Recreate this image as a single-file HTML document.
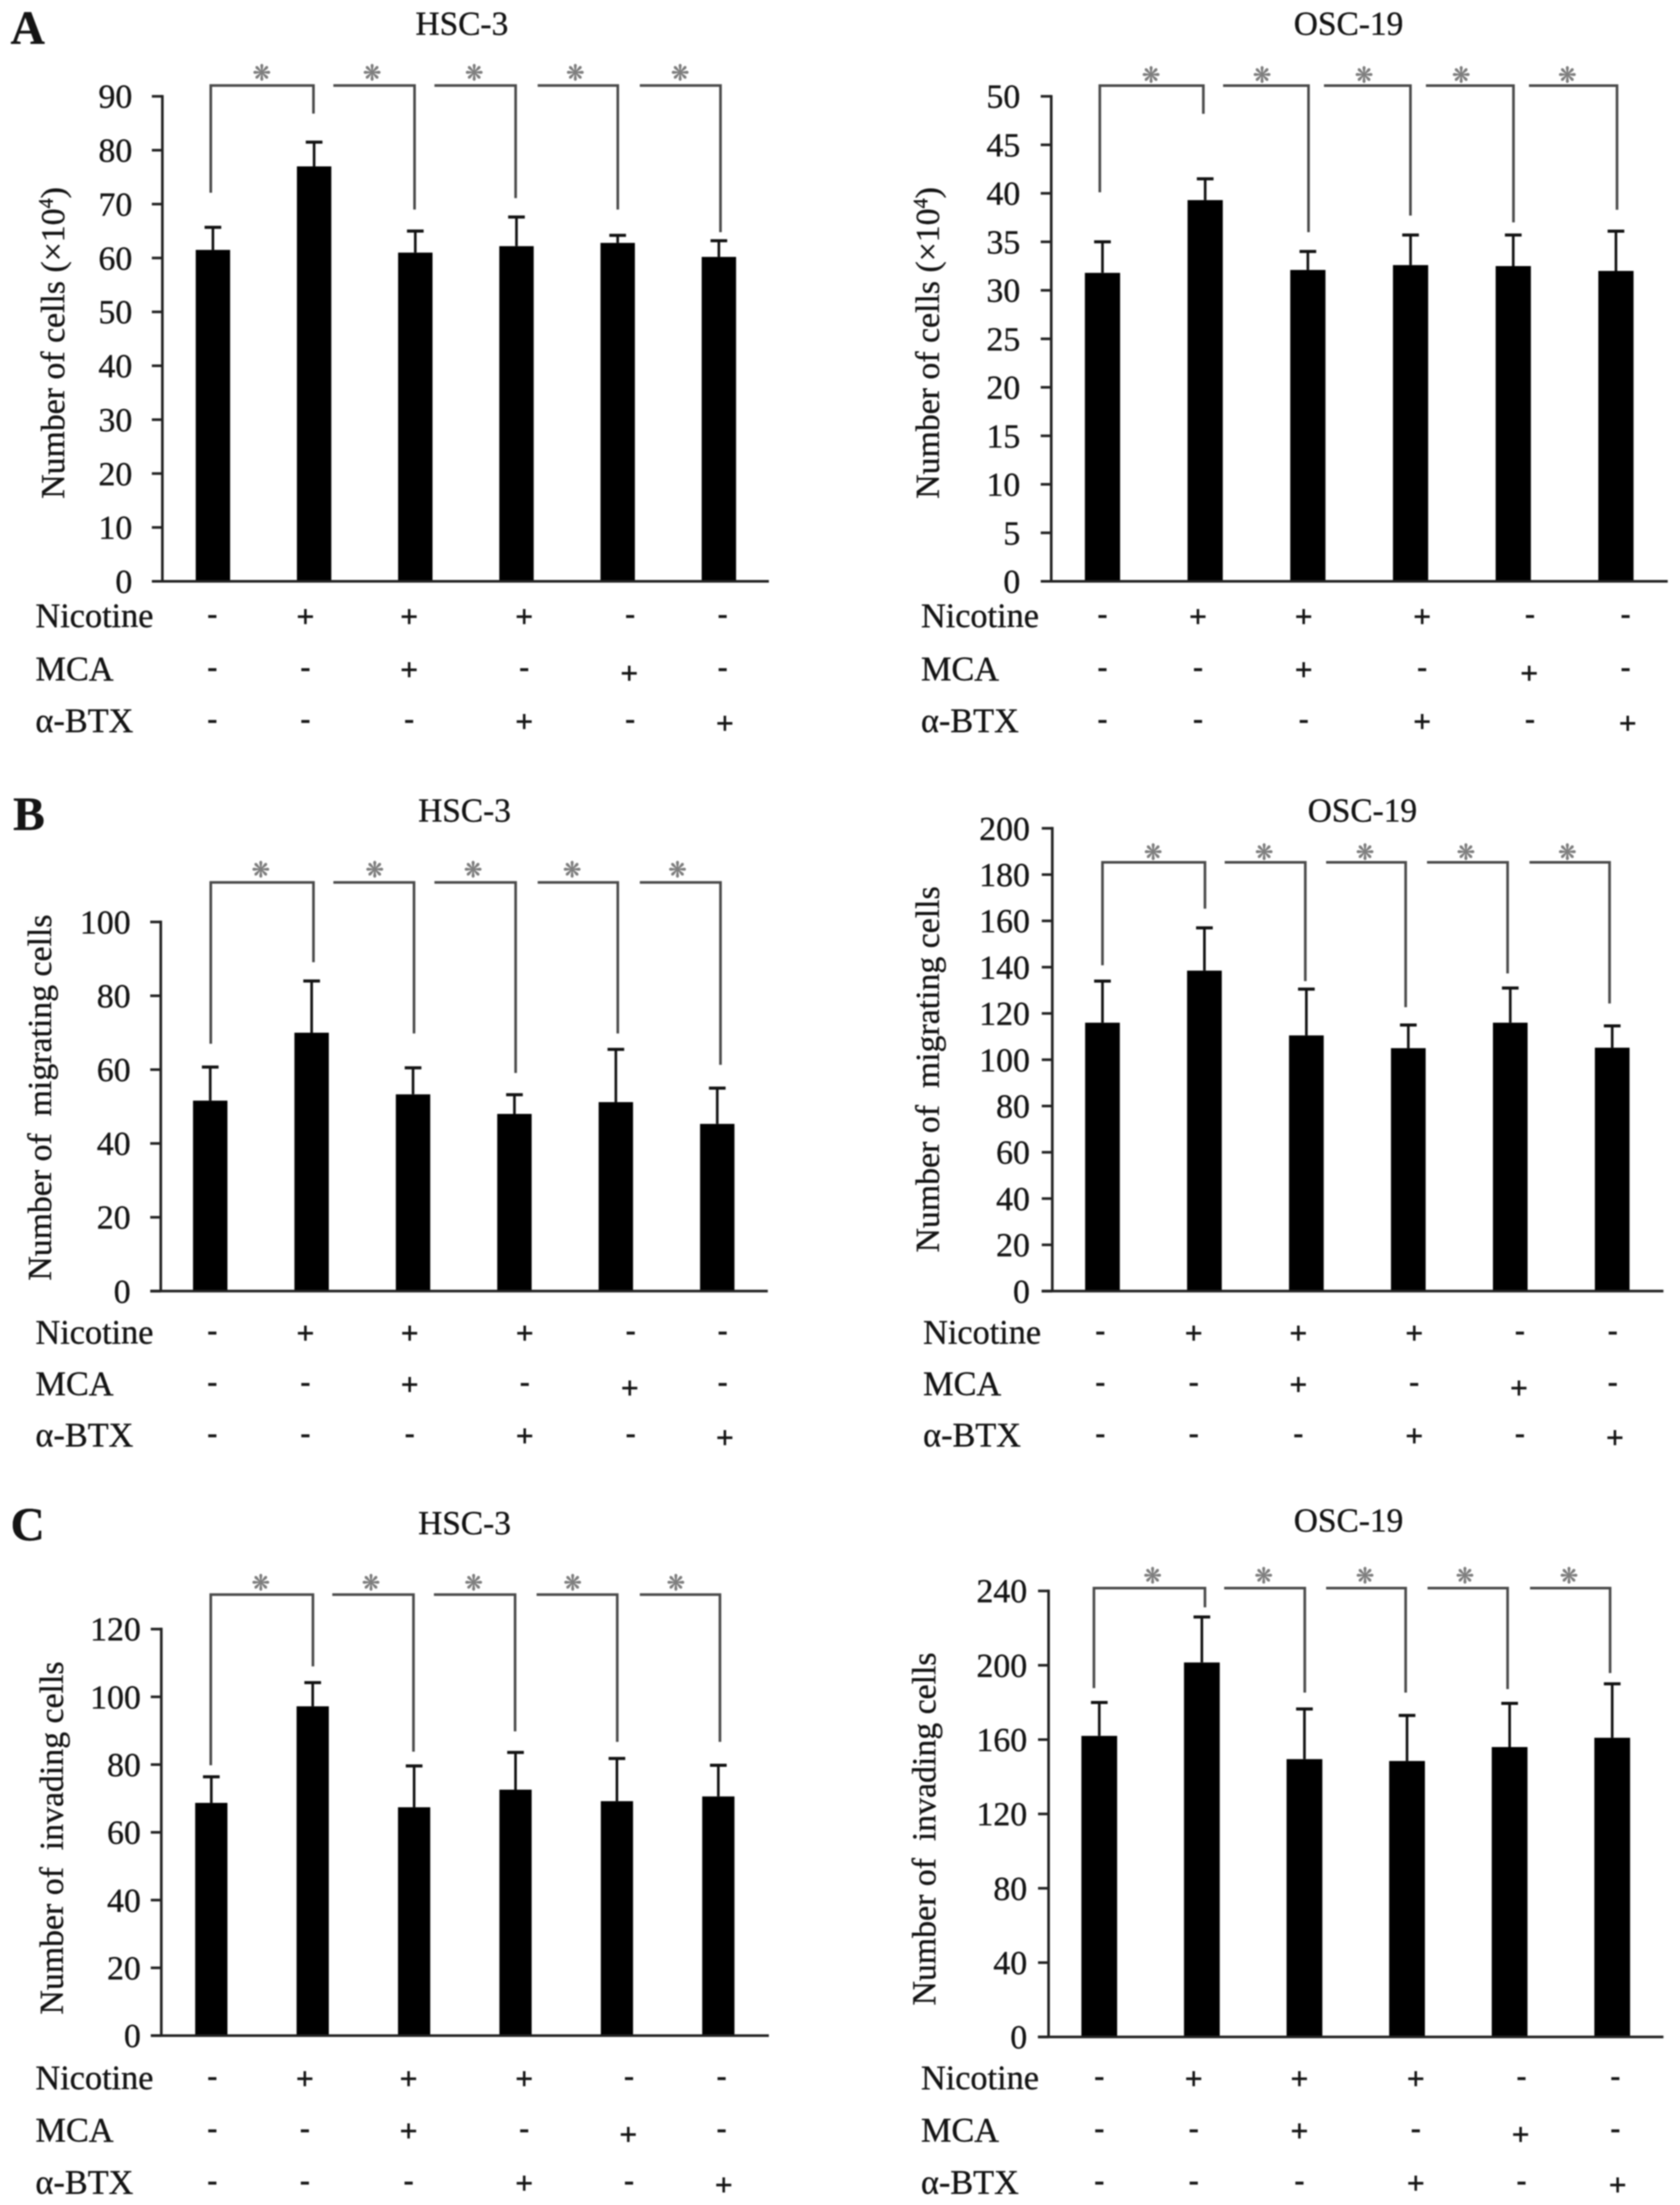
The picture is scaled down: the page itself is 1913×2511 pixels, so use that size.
<!DOCTYPE html>
<html lang="en">
<head>
<meta charset="utf-8">
<title>Nicotine effects on HSC-3 and OSC-19 cells</title>
<style>
html,body{margin:0;padding:0;background:#fff;}
#figure{display:block;filter:blur(0.7px);}
text{font-family:"Liberation Serif","DejaVu Serif",serif;fill:#141414;stroke:#141414;stroke-width:0.4px;}
</style>
</head>
<body>
<svg id="figure" xmlns="http://www.w3.org/2000/svg" width="1913" height="2511" viewBox="0 0 1913 2511">
<rect x="0" y="0" width="1913" height="2511" fill="#fff"/>
<text x="12" y="50" font-size="54" font-weight="bold">A</text>
<text x="15" y="945" font-size="54" font-weight="bold">B</text>
<text x="12" y="1754" font-size="54" font-weight="bold">C</text>
</svg>
<script>
// ---- shared categories and treatment rows ----
const conditions = ['control', 'nicotine', 'nicotine-mca', 'nicotine-btx', 'mca', 'btx'];
const treatmentNames = ['Nicotine', 'MCA', 'α-BTX'];
const nicotineSigns = ['-', '+', '+', '+', '-', '-'];
const mcaSigns = ['-', '-', '+', '-', '+', '-'];
const btxSigns = ['-', '-', '-', '+', '-', '+'];

// ---- panel A: number of cells ----
const aHscTicks = [0, 10, 20, 30, 40, 50, 60, 70, 80, 90];
const aHscMeans = [61.5, 77, 61, 62.2, 62.8, 60.2];
const aHscErrors = [4.2, 4.5, 4, 5.4, 1.4, 3];
const aHscBracketLevel = [92];
const aHscBracketEnds = [72.1, 86.8, 69, 71.1, 69, 64.8];

const aOscTicks = [0, 5, 10, 15, 20, 25, 30, 35, 40, 45, 50];
const aOscMeans = [31.8, 39.3, 32.1, 32.6, 32.5, 32];
const aOscErrors = [3.2, 2.2, 1.9, 3.1, 3.2, 4.1];
const aOscBracketLevel = [51.1];
const aOscBracketEnds = [40.1, 48.2, 36, 37.7, 37, 38.3];

// ---- panel B: migrating cells ----
const bHscTicks = [0, 20, 40, 60, 80, 100];
const bHscMeans = [51.6, 70, 53.3, 48, 51.2, 45.3];
const bHscErrors = [9.1, 14, 7.2, 5.2, 14.3, 9.7];
const bHscBracketLevel = [110.7];
const bHscBracketEnds = [67, 89.1, 69.8, 59.1, 69.8, 61.3];

const bOscTicks = [0, 20, 40, 60, 80, 100, 120, 140, 160, 180, 200];
const bOscMeans = [116, 138.5, 110.5, 105, 116, 105.2];
const bOscErrors = [18, 18.5, 20, 10, 15, 9.4];
const bOscBracketLevel = [185.3];
const bOscBracketEnds = [140.8, 165.3, 134, 122.7, 137.3, 124.3];

// ---- panel C: invading cells ----
const cHscTicks = [0, 20, 40, 60, 80, 100, 120];
const cHscMeans = [68.7, 97.2, 67.4, 72.6, 69.2, 70.6];
const cHscErrors = [7.7, 7, 12.2, 11, 12.6, 9.2];
const cHscBracketLevel = [130.2];
const cHscBracketEnds = [79.8, 109, 83.8, 89.8, 86.7, 86.7];

const cOscTicks = [0, 40, 80, 120, 160, 200, 240];
const cOscMeans = [162, 201.5, 149.5, 148.5, 156, 161];
const cOscErrors = [18, 24.5, 27, 24.5, 23.5, 29];
const cOscBracketLevel = [241.5];
const cOscBracketEnds = [187.7, 231.2, 185.3, 185.3, 187.2, 195.8];

// ---- geometry (layout only, separate from the data) ----
const SVGNS = 'http://www.w3.org/2000/svg';
const svg = document.getElementById('figure');
const FX_L = 1568 / 960, FX_R = 1568 / 953;

const panels = [
  { key: 'a-hsc3', ox: 0, oy: 0, fx: FX_L, fy: 1568 / 860, title: 'HSC-3', titleX: 859, titleY: 50,
    ticks: aHscTicks, means: aHscMeans, errors: aHscErrors, level: aHscBracketLevel, ends: aHscBracketEnds,
    axisX: 302, base: 1207, top: 200, topValue: 90, left: 284, right: 1430, first: 396, last: 1337, barW: 64,
    tickRight: 246, yTitle: 'cells4', yX: 100, yY: 712, labelX: 66, rowY: [1280, 1390, 1498], starY: 150,
    signX: [395, 568, 761, 975, 1172, 1344],
    brStart: [392, 620, 808, 1000, 1190], brEnd: [583, 771, 959, 1149, 1340], stars: [487, 692, 882, 1070, 1265] },
  { key: 'a-osc19', ox: 960, oy: 0, fx: FX_R, fy: 1568 / 860, title: 'OSC-19', titleX: 947, titleY: 50,
    ticks: aOscTicks, means: aOscMeans, errors: aOscErrors, level: aOscBracketLevel, ends: aOscBracketEnds,
    axisX: 390, base: 1207, top: 200, topValue: 50, left: 372, right: 1545, first: 486, last: 1448, barW: 66,
    tickRight: 332, yTitle: 'cells4', yX: 160, yY: 712, labelX: 146, rowY: [1280, 1390, 1498], starY: 155,
    signX: [486, 665, 863, 1085, 1287, 1466],
    brStart: [481, 712, 901, 1092, 1285], brEnd: [675, 872, 1063, 1256, 1450], stars: [577, 785, 976, 1158, 1357] },
  { key: 'b-hsc3', ox: 0, oy: 880, fx: FX_L, fy: 1568 / 800, title: 'HSC-3', titleX: 864, titleY: 85,
    ticks: bHscTicks, means: bHscMeans, errors: bHscErrors, level: bHscBracketLevel, ends: bHscBracketEnds,
    axisX: 299, base: 1157, top: 333, topValue: 100, left: 280, right: 1428, first: 391, last: 1334, barW: 64,
    tickRight: 243, yTitle: 'Number of\u00A0\u00A0migrating cells', yX: 75, yY: 725, labelX: 66, rowY: [1250, 1365, 1480], starY: 216,
    signX: [395, 568, 762, 976, 1173, 1344],
    brStart: [392, 620, 808, 1000, 1190], brEnd: [583, 770, 959, 1149, 1340], stars: [485, 697, 880, 1064, 1260] },
  { key: 'b-osc19', ox: 960, oy: 880, fx: FX_R, fy: 1568 / 800, title: 'OSC-19', titleX: 973, titleY: 85,
    ticks: bOscTicks, means: bOscMeans, errors: bOscErrors, level: bOscBracketLevel, ends: bOscBracketEnds,
    axisX: 392, base: 1157, top: 124, topValue: 200, left: 372, right: 1537, first: 486, last: 1441, barW: 65,
    tickRight: 350, yTitle: 'Number of\u00A0\u00A0migrating cells', yX: 160, yY: 662, labelX: 150, rowY: [1250, 1365, 1480], starY: 176,
    signX: [482, 657, 853, 1070, 1268, 1442],
    brStart: [486, 715, 905, 1094, 1286], brEnd: [678, 866, 1054, 1245, 1436], stars: [581, 789, 978, 1167, 1357] },
  { key: 'c-hsc3', ox: 0, oy: 1700, fx: FX_L, fy: 1568 / 811, title: 'HSC-3', titleX: 864, titleY: 68,
    ticks: cHscTicks, means: cHscMeans, errors: cHscErrors, level: cHscBracketLevel, ends: cHscBracketEnds,
    axisX: 300, base: 1195, top: 300, topValue: 120, left: 281, right: 1430, first: 393, last: 1336, barW: 60,
    tickRight: 262, yTitle: 'Number of\u00A0\u00A0invading cells', yX: 97, yY: 760, labelX: 66, rowY: [1290, 1405, 1520], starY: 197,
    signX: [395, 567, 760, 975, 1170, 1342],
    brStart: [392, 618, 807, 998, 1190], brEnd: [582, 769, 958, 1148, 1339], stars: [485, 690, 881, 1065, 1257] },
  { key: 'c-osc19', ox: 960, oy: 1700, fx: FX_R, fy: 1568 / 811, title: 'OSC-19', titleX: 947, titleY: 62,
    ticks: cOscTicks, means: cOscMeans, errors: cOscErrors, level: cOscBracketLevel, ends: cOscBracketEnds,
    axisX: 385, base: 1198, top: 216, topValue: 240, left: 365, right: 1537, first: 480, last: 1441, barW: 67,
    tickRight: 345, yTitle: 'Number of\u00A0\u00A0invading cells', yX: 153, yY: 740, labelX: 146, rowY: [1290, 1405, 1520], starY: 182,
    signX: [480, 657, 855, 1073, 1271, 1447],
    brStart: [470, 714, 905, 1095, 1287], brEnd: [678, 865, 1054, 1245, 1437], stars: [580, 788, 978, 1165, 1360] }
];

const signRows = [nicotineSigns, mcaSigns, btxSigns];

function shape(parent, tag) {
  const el = document.createElementNS(SVGNS, tag);
  parent.appendChild(el);
  return el;
}
function setAll(el, props) {
  for (const k in props) el.setAttribute(k, props[k]);
}

panels.forEach(function (p) {
  const px = function (c) { return p.ox + c / p.fx; };
  const py = function (c) { return p.oy + c / p.fy; };
  const baseY = py(p.base);
  const topY = py(p.top);
  // axis functions
  const yScale = function (v) { return baseY - (v / p.topValue) * (baseY - topY); };
  const xScale = function (i) { return px(p.first + (p.last - p.first) * i / (conditions.length - 1)); };
  const axisX = px(p.axisX);

  const g = shape(svg, 'g');
  
  

  const title = shape(g, 'text');
  
  
  setAll(title, { x: px(p.titleX), y: py(p.titleY) + 12, 'font-size': 38, 'text-anchor': 'middle' });
  title.textContent = p.title;

  // y axis title
  const yTitle = shape(g, 'text');
  
  
  const tx = px(p.yX) + 12, ty = py(p.yY);
  setAll(yTitle, { x: tx, y: ty, 'font-size': 38.5, 'text-anchor': 'middle', transform: 'rotate(-90 ' + tx + ' ' + ty + ')' });
  if (p.yTitle === 'cells4') {
    yTitle.appendChild(document.createTextNode('Number of cells (×10'));
    const sup = shape(yTitle, 'tspan');
    setAll(sup, { 'font-size': 23, dy: -13 });
    sup.textContent = '4';
    const close = shape(yTitle, 'tspan');
    setAll(close, { dy: 13 });
    close.textContent = ')';
  } else {
    yTitle.textContent = p.yTitle;
  }

  // bars
  p.means.forEach(function (v, i) {
    const w = p.barW / p.fx;
    const bar = shape(g, 'rect');
    
    
    setAll(bar, { x: xScale(i) - w / 2, y: yScale(v), width: w, height: baseY - yScale(v), fill: '#000' });

    const errTop = yScale(v + p.errors[i]);
    const stem = shape(g, 'line');
    
    
    setAll(stem, { x1: xScale(i), x2: xScale(i), y1: yScale(v), y2: errTop, stroke: '#111', 'stroke-width': 3 });
    const cap = shape(g, 'line');
    
    
    setAll(cap, { x1: xScale(i) - 9.5, x2: xScale(i) + 9.5, y1: errTop, y2: errTop, stroke: '#111', 'stroke-width': 3.5 });
  });

  // axes
  const yAxis = shape(g, 'line');
  
  
  setAll(yAxis, { x1: axisX, x2: axisX, y1: topY - 1.5, y2: baseY, stroke: '#222', 'stroke-width': 3 });
  const xAxis = shape(g, 'line');
  
  
  setAll(xAxis, { x1: px(p.left), x2: px(p.right), y1: baseY, y2: baseY, stroke: '#222', 'stroke-width': 3 });

  p.ticks.forEach(function (t) {
    const tick = shape(g, 'line');
    
    
    setAll(tick, { x1: axisX - 12, x2: axisX, y1: yScale(t), y2: yScale(t), stroke: '#222', 'stroke-width': 3 });
    const label = shape(g, 'text');
    
    
    setAll(label, { x: px(p.tickRight), y: yScale(t) + 13, 'font-size': 38.5, 'text-anchor': 'end' });
    label.textContent = String(t);
  });

  // significance brackets
  p.brStart.forEach(function (s, i) {
    const level = yScale(p.level[0]);
    const path = shape(g, 'path');
    
    
    const startPart = i === 0
      ? 'M' + px(s) + ' ' + yScale(p.ends[0]) + ' L' + px(s) + ' ' + level
      : 'M' + px(s) + ' ' + level;
    setAll(path, { d: startPart + ' L' + px(p.brEnd[i]) + ' ' + level + ' L' + px(p.brEnd[i]) + ' ' + yScale(p.ends[i + 1]),
      fill: 'none', stroke: '#4a4a4a', 'stroke-width': 3 });
    const star = shape(g, 'text');
    
    
    setAll(star, { x: px(p.stars[i]), y: py(p.starY) + 9, 'font-size': 25, 'text-anchor': 'middle',
      style: 'font-family:\'DejaVu Sans\',sans-serif;fill:#7d7d7d;stroke:#7d7d7d' });
    star.textContent = '❋';
  });

  // treatment rows
  treatmentNames.forEach(function (name, r) {
    const rowLabel = shape(g, 'text');
    
    
    setAll(rowLabel, { x: px(p.labelX), y: py(p.rowY[r]) + 12, 'font-size': 39 });
    rowLabel.textContent = name;
    signRows[r].forEach(function (sign, c) {
      // small hand offsets seen on the two plus signs set lower in the source figure
      const dy = (r === 1 && c === 4) ? 4 : (r === 2 && c === 5) ? 2 : 0;
      const dx = (r === 2 && c === 5) ? 2.5 : (r === 1 && c === 4) ? -1 : 0;
      const mark = shape(g, 'text');
      
      
      setAll(mark, { x: px(p.signX[c]) + dx, y: py(p.rowY[r]) + dy + (sign === '+' ? 12 : 8), 'font-size': sign === '+' ? 36 : 34, 'font-weight': 'bold', 'text-anchor': 'middle' });
      mark.textContent = sign;
    });
  });
});
</script>
</body>
</html>
